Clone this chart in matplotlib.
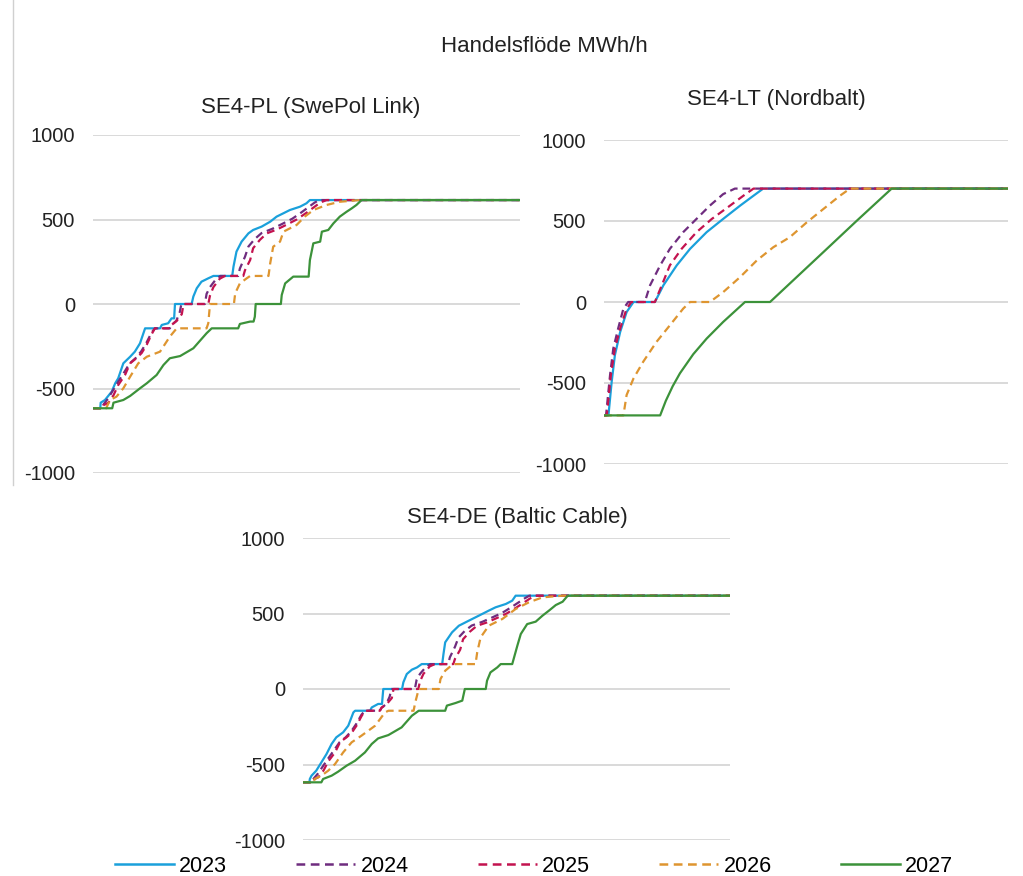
import matplotlib
matplotlib.use('Agg')
import matplotlib.pyplot as plt
from matplotlib.lines import Line2D

plt.rcParams['font.family'] = ['Liberation Sans', 'DejaVu Sans']
plt.rcParams['axes.unicode_minus'] = False

years = ['2023', '2024', '2025', '2026', '2027']
colors = ['#1AA0DB', '#6F2C7F', '#C3134F', '#DE9530', '#3C923A']
styles = ['-', '--', '--', '--', '-']

# duration curves, (share of hours %, MWh/h)
pl_2023 = [(0, -617), (1.7, -617), (1.8, -584), (2.8, -568), (4.4, -518), (5.2, -469), (5.9, -440), (7.1, -351),
           (8.7, -312), (9.8, -282), (11.0, -233), (12.2, -144), (15.7, -144), (16.1, -124), (17.6, -114),
           (18.4, -85), (19.0, -85), (19.2, 0), (23.1, 0), (23.5, 44), (24.3, 93), (25.4, 132), (27.0, 152),
           (28.2, 166), (32.6, 166), (32.9, 221), (33.6, 310), (34.8, 369), (36.4, 418), (37.5, 438),
           (39.5, 458), (41.5, 487), (43.0, 517), (44.6, 537), (46.1, 556), (48.5, 576), (50.0, 596),
           (50.8, 615), (100, 615)]
pl_2024 = [(0, -617), (2.2, -617), (2.3, -600), (3.5, -560), (4.7, -510), (5.9, -460), (7.4, -400), (8.6, -351),
           (10.0, -320), (11.3, -280), (12.5, -230), (13.7, -170), (14.5, -144), (18.0, -144), (18.4, -124),
           (19.5, -100), (20.3, -50), (20.7, 0), (26.2, 0), (26.6, 60), (27.4, 100), (28.6, 140), (29.8, 166),
           (34.0, 166), (34.4, 210), (35.6, 280), (36.4, 340), (37.9, 385), (39.5, 420), (42.0, 445),
           (44.4, 475), (46.7, 505), (48.7, 540), (50.3, 570), (51.9, 600), (53.0, 615), (100, 615)]
pl_2025 = [(0, -617), (2.3, -617), (2.4, -600), (3.6, -584), (4.8, -540), (5.9, -480), (7.5, -420), (8.7, -351),
           (10.2, -320), (11.4, -290), (12.6, -240), (13.7, -180), (14.5, -144), (18.0, -144), (18.4, -124),
           (19.6, -100), (20.8, -60), (21.2, 0), (27.0, 0), (27.4, 50), (28.2, 100), (29.7, 150), (30.9, 166),
           (35.2, 166), (35.6, 200), (36.8, 260), (37.5, 330), (39.1, 380), (40.7, 418), (43.0, 440),
           (45.4, 470), (47.7, 500), (50.0, 540), (51.6, 570), (53.2, 600), (54.7, 615), (100, 615)]
pl_2026 = [(0, -617), (3.1, -617), (3.2, -610), (4.0, -568), (5.5, -548), (7.1, -499), (8.7, -430), (10.6, -351),
           (12.6, -312), (15.7, -282), (18.0, -193), (19.6, -144), (26.6, -144), (27.0, -114), (27.4, 0),
           (33.0, 0), (33.3, 63), (34.4, 122), (36.0, 152), (36.8, 166), (41.1, 166), (41.5, 241), (42.2, 339),
           (43.8, 369), (44.6, 428), (47.7, 468), (49.6, 517), (51.6, 556), (54.7, 586), (57.8, 605),
           (62.5, 615), (100, 615)]
pl_2027 = [(0, -617), (4.5, -617), (4.8, -584), (7.1, -568), (8.7, -544), (11.0, -499), (12.6, -469), (14.9, -420),
           (16.5, -361), (18.0, -321), (20.4, -308), (23.5, -262), (26.6, -173), (27.8, -144), (34.0, -144),
           (34.4, -118), (36.8, -104), (37.6, -104), (37.9, -75), (38.1, 0), (44.0, 0), (44.2, 53), (45.0, 122),
           (46.9, 162), (50.5, 162), (50.8, 260), (51.6, 359), (53.2, 369), (53.6, 428), (55.1, 438),
           (56.3, 477), (57.8, 517), (59.4, 546), (60.6, 566), (61.7, 586), (62.9, 615), (100, 615)]

lt_2023 = [(0, -700), (1.1, -700), (1.9, -492), (2.7, -328), (4.0, -185), (5.6, -62), (7.3, 0), (12.6, 0),
           (14.7, 103), (18.0, 226), (21.3, 328), (25.4, 431), (29.5, 513), (33.7, 595), (37.0, 656),
           (39.4, 700), (100, 700)]
lt_2024 = [(0, -700), (0.5, -700), (1.5, -451), (2.3, -287), (3.5, -164), (4.8, -41), (6.0, 0), (10.1, 0),
           (11.4, 103), (13.9, 226), (16.3, 328), (19.6, 431), (22.9, 513), (26.2, 595), (29.5, 666),
           (32.4, 700), (100, 700)]
lt_2025 = [(0, -700), (0.7, -700), (1.7, -451), (2.7, -287), (4.0, -164), (5.6, -41), (6.8, 0), (12.6, 0),
           (14.3, 103), (16.3, 226), (19.2, 328), (22.9, 431), (26.7, 513), (31.2, 595), (34.5, 656),
           (37.0, 700), (100, 700)]
lt_2026 = [(0, -700), (4.8, -700), (5.6, -574), (7.3, -472), (9.7, -369), (13.0, -246), (16.3, -144),
           (19.6, -41), (21.3, 0), (26.2, 0), (29.5, 61), (33.7, 154), (37.8, 256), (41.9, 338), (46.0, 400),
           (50.2, 492), (54.3, 574), (58.4, 656), (60.9, 700), (100, 700)]
lt_2027 = [(0, -700), (13.9, -700), (15.3, -610), (17.0, -520), (18.8, -440), (22.1, -322), (25.4, -226),
           (29.5, -123), (34.9, 0), (41.1, 0), (47.7, 154), (54.3, 308), (62.5, 500), (71.2, 700), (100, 700)]

de_2023 = [(0, -618), (1.5, -618), (1.6, -596), (2.0, -574), (3.1, -541), (4.3, -486), (5.5, -431), (6.7, -364),
           (7.8, -320), (9.4, -287), (10.6, -243), (11.8, -155), (12.2, -144), (15.7, -144), (16.1, -122),
           (17.6, -99), (18.5, -99), (18.8, 0), (23.2, 0), (23.5, 44), (24.3, 99), (25.5, 128), (26.7, 143),
           (27.8, 165), (32.6, 165), (32.9, 232), (33.3, 309), (34.9, 375), (36.5, 419), (38.8, 452),
           (41.2, 486), (43.5, 519), (45.1, 541), (47.5, 563), (49.0, 585), (49.8, 618), (100, 618)]
de_2024 = [(0, -618), (2.2, -618), (2.3, -600), (3.5, -560), (4.7, -510), (5.9, -460), (7.4, -400), (8.6, -351),
           (10.0, -320), (11.3, -280), (12.5, -230), (13.7, -170), (14.5, -144), (18.0, -144), (18.4, -124),
           (19.5, -100), (20.3, -50), (20.7, 0), (26.2, 0), (26.6, 60), (27.4, 100), (28.6, 140), (29.8, 165),
           (34.0, 165), (34.4, 210), (35.6, 280), (36.4, 340), (37.9, 385), (39.5, 420), (42.0, 445),
           (44.4, 475), (46.7, 505), (48.7, 540), (50.3, 570), (51.9, 600), (53.0, 618), (100, 618)]
de_2025 = [(0, -618), (2.3, -618), (2.4, -600), (3.6, -584), (4.8, -540), (5.9, -480), (7.5, -420), (8.7, -351),
           (10.2, -320), (11.4, -290), (12.6, -240), (13.7, -180), (14.5, -144), (18.0, -144), (18.4, -124),
           (19.6, -100), (20.8, -60), (21.2, 0), (27.0, 0), (27.4, 50), (28.2, 100), (29.7, 150), (30.9, 165),
           (35.2, 165), (35.6, 200), (36.8, 260), (37.5, 330), (39.1, 380), (40.7, 418), (43.0, 440),
           (45.4, 470), (47.7, 500), (50.0, 540), (51.6, 570), (53.2, 600), (54.7, 618), (100, 618)]
de_2026 = [(0, -618), (2.6, -618), (2.7, -596), (4.3, -574), (5.9, -541), (7.5, -497), (9.4, -420), (11.4, -353),
           (13.7, -309), (16.9, -243), (19.2, -155), (20.0, -144), (25.9, -144), (26.3, -88), (27.1, 0),
           (31.8, 0), (32.2, 66), (33.3, 121), (34.9, 159), (35.7, 165), (40.4, 165), (40.8, 243), (41.6, 342),
           (43.5, 419), (46.7, 464), (49.8, 530), (52.9, 574), (56.1, 607), (60.8, 618), (100, 618)]
de_2027 = [(0, -618), (4.3, -618), (4.7, -596), (6.7, -574), (8.2, -548), (10.2, -508), (12.2, -475), (14.5, -420),
           (16.1, -364), (17.6, -327), (20.0, -305), (23.1, -254), (25.5, -177), (27.1, -144), (33.3, -144),
           (33.7, -110), (35.7, -93), (37.3, -77), (37.9, 0), (42.8, 0), (43.1, 55), (43.9, 110), (45.5, 143),
           (46.3, 165), (49.0, 165), (50.2, 287), (51.0, 364), (52.5, 430), (54.5, 446), (56.1, 486),
           (57.6, 519), (59.2, 556), (60.8, 578), (62.0, 618), (100, 618)]

fig = plt.figure(figsize=(10.23, 8.76), dpi=100)
W, H = 1023, 876


def make_ax(x0, x1, y0, y1):
    ax = fig.add_axes([x0 / W, 1 - y1 / H, (x1 - x0) / W, (y1 - y0) / H])
    ax.set_xlim(0, 100)
    ax.set_ylim(-1000, 1000)
    ax.set_yticks([-1000, -500, 0, 500, 1000])
    ax.set_xticks([])
    for s in ax.spines.values():
        s.set_visible(False)
    ax.grid(axis='y', color='#D9D9D9', linewidth=1.4)
    ax.set_axisbelow(True)
    ax.tick_params(axis='y', length=0, pad=13, labelsize=14.5, labelcolor='#222222')
    return ax


def draw(ax, series):
    for data, c, ls in zip(series, colors, styles):
        x = [p[0] for p in data]
        y = [p[1] for p in data]
        ax.plot(x, y, color=c, lw=1.6, linestyle=ls, dashes=(3.5, 2.2) if ls == '--' else (None, None))


ax1 = make_ax(93, 520, 135, 473)
draw(ax1, [pl_2023, pl_2024, pl_2025, pl_2026, pl_2027])
ax2 = make_ax(604, 1008, 140, 464)
draw(ax2, [lt_2023, lt_2024, lt_2025, lt_2026, lt_2027])
ax3 = make_ax(303, 730, 538, 840)
draw(ax3, [de_2023, de_2024, de_2025, de_2026, de_2027])

fig.text(544 / W, 1 - 46 / H, 'Handelsflöde MWh/h', ha='center', va='center', fontsize=16, color='#222222')
fig.text(311 / W, 1 - 108 / H, 'SE4-PL (SwePol Link)', ha='center', va='center', fontsize=16, color='#222222')
fig.text(776 / W, 1 - 100 / H, 'SE4-LT (Nordbalt)', ha='center', va='center', fontsize=16, color='#222222')
fig.text(517 / W, 1 - 517 / H, 'SE4-DE (Baltic Cable)', ha='center', va='center', fontsize=16, color='#222222')

fig.add_artist(Line2D([13 / W, 13 / W], [1, 1 - 485 / H], color='#D0D0D0', lw=1))

handles = [Line2D([], [], color=c, lw=1.8, linestyle=ls, dashes=(3.5, 2.2) if ls == '--' else (None, None))
           for c, ls in zip(colors, styles)]
fig.legend(handles, years, loc='center', bbox_to_anchor=(534 / W, 1 - 866 / H), ncol=5, frameon=False,
           fontsize=15.5, handlelength=2.75, handletextpad=0.25, columnspacing=3.2, borderaxespad=0)

fig.savefig('out.png', dpi=100)
